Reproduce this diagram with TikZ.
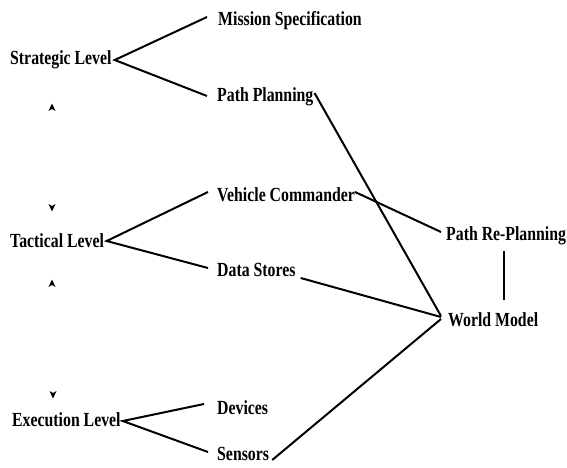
\documentclass[tikz,border=0pt]{standalone}
\usepackage{fontspec}
\newfontfamily\lblfont{Liberation Serif}[FakeStretch=0.79]
\usetikzlibrary{calc}
\begin{document}
\begin{tikzpicture}[x=1pt,y=-1pt,
  lbl/.style={anchor=west,inner sep=0pt,text height=13.5pt,text depth=0pt,
    font=\lblfont\bfseries\fontsize{20}{22}\selectfont},
  conn/.style={line width=2pt},
  tick/.style={fill=black}]
\useasboundingbox (0,0) rectangle (567,468);
% nodes
\node[lbl] (sl) at (10,58) {Strategic Level};
\node[lbl] (ms) at (218,19) {Mission Specification};
\node[lbl] (pp) at (217,95) {Path Planning};
\node[lbl] (tl) at (10,241) {Tactical Level};
\node[lbl] (vc) at (217,195) {Vehicle Commander};
\node[lbl] (ds) at (217,270) {Data Stores};
\node[lbl] (el) at (12,420) {Execution Level};
\node[lbl] (dv) at (217,408) {Devices};
\node[lbl] (sn) at (217,454) {Sensors};
\node[lbl] (prp) at (446,234) {Path Re-Planning};
\node[lbl] (wm) at (448,320) {World Model};
% level branches
\draw[conn] ($(ms.west)+(-11,-2)$) -- ($(sl.east)+(3,2)$) -- ($(pp.west)+(-10,1)$);
\draw[conn] ($(vc.west)+(-9,-3)$) -- ($(tl.east)+(2.5,0)$) -- ($(ds.west)+(-9,-2)$);
\draw[conn] ($(dv.west)+(-13,-4)$) -- ($(el.east)+(2,1)$) -- ($(sn.west)+(-9,-2)$);
% cross connections
\draw[conn] ($(pp.east)+(1,-2)$) -- ($(wm.west)+(-7,-4)$);
\draw[conn] ($(vc.east)+(0,-3)$) -- ($(prp.west)+(-5,-2)$);
\draw[conn] ($(prp.south)+(-2,10)$) -- ($(prp.south)+(-2,59)$);
\draw[conn] ($(ds.east)+(5,8)$) -- ($(wm.west)+(-7,-3)$);
\draw[conn] ($(sn.east)+(3,6)$) -- ($(wm.west)+(-7,-1)$);
% small arrowheads between levels
\fill[tick] (48.5,111) -- (52,103.5) -- (55.5,111) -- (52,109) -- cycle;
\fill[tick] (48.5,204) -- (52,211.5) -- (55.5,204) -- (52,206) -- cycle;
\fill[tick] (48.5,287) -- (52,279.5) -- (55.5,287) -- (52,285) -- cycle;
\fill[tick] (49.5,391) -- (53,398.5) -- (56.5,391) -- (53,393) -- cycle;
\end{tikzpicture}
\end{document}
